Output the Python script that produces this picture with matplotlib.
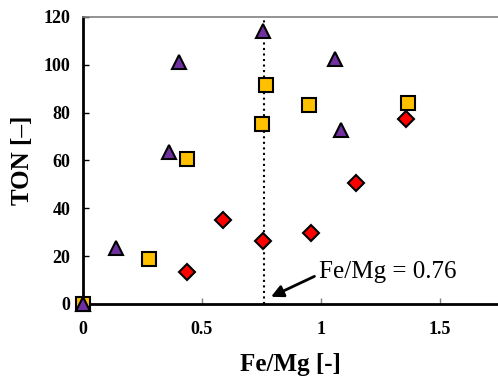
import matplotlib
matplotlib.use('Agg')
import matplotlib.pyplot as plt

# Fe/Mg ratio vs TON for three catalyst series
diamond_x = [0.437, 0.588, 0.756, 0.958, 1.147, 1.357]
diamond_y = [13.4, 35.1, 26.3, 29.7, 50.6, 77.3]

square_x = [0.0, 0.277, 0.437, 0.752, 0.769, 0.950, 1.365]
square_y = [0.0, 18.8, 60.6, 75.2, 91.6, 83.2, 84.0]

triangle_x = [0.0, 0.139, 0.361, 0.403, 0.756, 1.059, 1.084]
triangle_y = [0.0, 23.4, 63.5, 101.2, 114.0, 102.4, 72.7]

fe_mg_line = 0.76

plt.rcParams['font.family'] = ['Liberation Serif', 'DejaVu Serif']

fig = plt.figure(figsize=(4.98, 3.76), dpi=100)
ax = fig.add_axes([0.1667, 0.1915, 0.8333, 0.7633])

# vertical marker line first so points sit on top of it
ax.plot([fe_mg_line, fe_mg_line], [0, 120], color='black', linestyle=':', linewidth=1.5, zorder=1)

ax.plot(diamond_x, diamond_y, linestyle='none', marker='D', markersize=8.5,
        markerfacecolor='#FF0000', markeredgecolor='black', markeredgewidth=1.5,
        zorder=3, clip_on=False)
ax.plot(square_x, square_y, linestyle='none', marker='s', markersize=10,
        markerfacecolor='#FFC000', markeredgecolor='black', markeredgewidth=1.5,
        zorder=3, clip_on=False)
ax.plot(triangle_x, triangle_y, linestyle='none', marker='^', markersize=10.5,
        markerfacecolor='#7030A0', markeredgecolor='black', markeredgewidth=1.5,
        zorder=4, clip_on=False)

ax.annotate('Fe/Mg = 0.76', xy=(0.79, 3.0), xytext=(0.99, 8.8),
            fontsize=18, va='bottom', ha='left',
            arrowprops=dict(arrowstyle='-|>', color='black', lw=2, mutation_scale=18,
                            shrinkA=0, shrinkB=0, relpos=(-0.03, 0.3)))

ax.set_xlim(0, 1.744)
ax.set_ylim(0, 120)
ax.set_xticks([0, 0.5, 1, 1.5])
ax.set_xticklabels(['0', '0.5', '1', '1.5'])
ax.set_yticks([0, 20, 40, 60, 80, 100, 120])

ax.spines['right'].set_visible(False)
ax.spines['top'].set_color('#808080')
ax.spines['top'].set_linewidth(1.2)
ax.spines['left'].set_linewidth(2)
ax.spines['bottom'].set_linewidth(2)

ax.tick_params(axis='x', direction='in', length=4, width=1, color='#808080', pad=12)
ax.tick_params(axis='y', direction='in', length=4, width=1, color='black', pad=9)
for lbl in ax.get_xticklabels() + ax.get_yticklabels():
    lbl.set_fontweight('bold')
    lbl.set_fontsize(13)

ax.set_xlabel('Fe/Mg [-]', fontsize=18, fontweight='bold', labelpad=11)
ax.set_ylabel('TON [\u2013]', fontsize=18, fontweight='bold', labelpad=7)

fig.savefig('out.png', dpi=100)
